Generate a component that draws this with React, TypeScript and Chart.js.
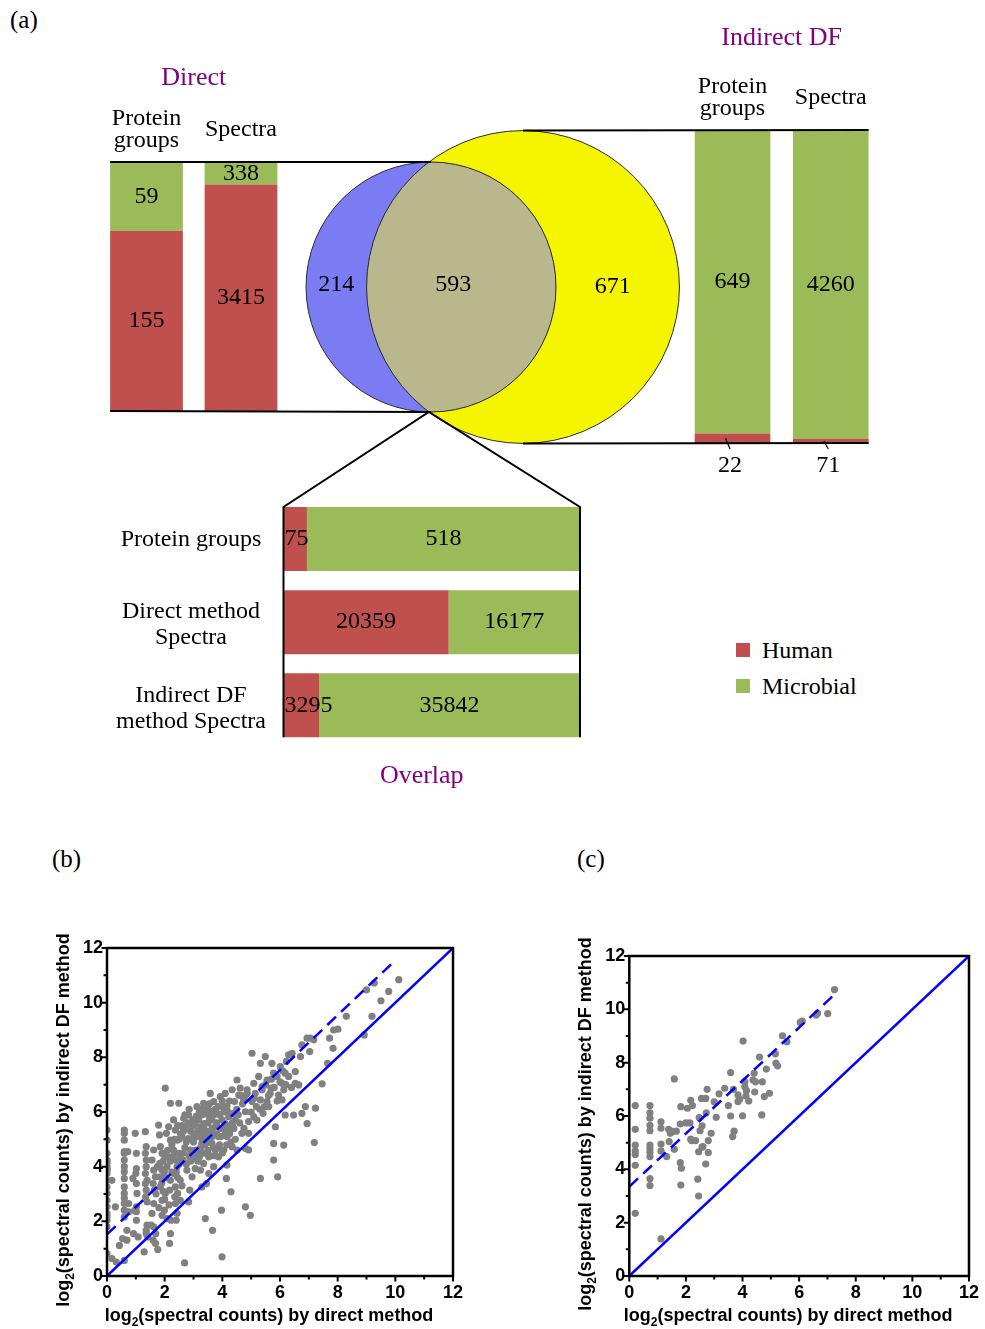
import React, { useEffect, useRef } from "react";
import { Chart, registerables } from "chart.js";

Chart.register(...registerables);

// ---------------- data ----------------
const seriesNames = ["Human", "Microbial"];

const directCategories = [["Protein", "groups"], ["Spectra"]];
const directHumanCounts = [155, 3415];
const directMicrobialCounts = [59, 338];
const directHumanShare = [72.4, 91.0];
const directMicrobialShare = [27.6, 9.0];

const indirectCategories = [["Protein", "groups"], ["Spectra"]];
const indirectHumanCounts = [22, 71];
const indirectMicrobialCounts = [649, 4260];
const indirectHumanShare = [3.0, 1.3];
const indirectMicrobialShare = [97.0, 98.7];

const overlapCategories = [["Protein groups"], ["Direct method", "Spectra"], ["Indirect DF", "method Spectra"]];
const overlapHumanCounts = [75, 20359, 3295];
const overlapMicrobialCounts = [518, 16177, 35842];
const overlapHumanShare = [7.9, 55.7, 12.0];
const overlapMicrobialShare = [92.1, 44.3, 88.0];

const vennSetNames = ["Direct", "Indirect DF"];
const vennOnlyCounts = [214, 671];
const vennSharedCount = 593;

const identityLine: [number, number][] = [[0, 0], [12, 12]];
const fitLineB: [number, number][] = [[0, 1.52], [9.9, 11.45]];
const fitLineC: [number, number][] = [[0, 3.35], [7.29, 10.6]];

const scatterB: [number, number][] = [
  [0, 5.34], [0, 4.97], [0, 4.49], [0, 4.24], [0, 4.12], [0, 4.0], [0, 3.87], [0, 3.75], [0, 3.5], [0, 3.26],
  [0, 3.02], [0, 2.77], [0, 2.53], [0, 2.29], [0, 2.04], [0, 1.8], [0, 0.82], [0, 4.19], [0, 3.94], [0, 2.17],
  [0.17, 0.64], [0.32, 0.51], [0.29, 2.53], [0.17, 3.5], [0.43, 1.12], [0.54, 1.37],
  [0.6, 5.34], [0.6, 5.22], [0.6, 4.97], [0.6, 4.55], [0.6, 4.49], [0.6, 4.24], [0.6, 4.0], [0.6, 3.81], [0.6, 3.57],
  [0.6, 3.26], [0.6, 3.02], [0.6, 2.84], [0.6, 2.65], [0.6, 2.41], [0.6, 2.16], [0.6, 0.57], [0.72, 4.55], [0.75, 2.65],
  [0.69, 1.67], [0.75, 2.35], [0.69, 1.31],
  [0.9, 3.57], [0.98, 5.22], [1.02, 4.49], [1.02, 3.93], [1.0, 3.75], [1.02, 3.38], [1.04, 3.02], [1.02, 2.53],
  [1.02, 2.35], [1.02, 2.04], [0.92, 1.55], [0.96, 2.4], [1.08, 1.43],
  [1.33, 5.28], [1.36, 4.73], [1.33, 4.49], [1.36, 4.24], [1.36, 4.0], [1.33, 3.75], [1.39, 3.5], [1.33, 3.38],
  [1.36, 3.14], [1.34, 2.9], [1.39, 2.71], [1.29, 0.88], [1.39, 1.86], [1.36, 1.67], [1.36, 1.55], [1.41, 1.43],
  [1.62, 4.61], [1.56, 4.24], [1.62, 3.87], [1.68, 3.63], [1.6, 3.38], [1.64, 3.14], [1.62, 2.65], [1.56, 2.29],
  [1.62, 1.8], [1.6, 1.31], [1.68, 1.19], [1.76, 0.97], [1.53, 1.86], [1.69, 1.55], [1.79, 5.52],
  [1.82, 5.16], [1.85, 4.73], [1.91, 4.49], [1.83, 4.12], [1.99, 3.81], [1.85, 3.63], [1.85, 3.26], [2.02, 3.02],
  [1.91, 2.77], [1.99, 2.41], [1.91, 2.22], [2.02, 6.87], [2.2, 6.32], [2.14, 5.46], [2.06, 5.22], [2.2, 4.97],
  [2.14, 4.36], [2.08, 4.0], [2.2, 3.5], [2.17, 3.14], [2.2, 1.55], [2.17, 1.19], [2.22, 2.04], [2.08, 2.1],
  [2.31, 5.71], [2.37, 5.34], [2.43, 4.97], [2.31, 4.61], [2.49, 4.49], [2.37, 4.24], [2.43, 4.0], [2.31, 3.75],
  [2.54, 3.5], [2.37, 3.26], [2.45, 3.02], [2.37, 2.65], [2.43, 2.29], [2.4, 2.04], [2.49, 6.32], [2.66, 5.77],
  [2.6, 5.1], [2.64, 4.24], [2.54, 2.77], [2.69, 0.48],
  [2.77, 5.46], [2.83, 5.03], [2.89, 4.61], [2.77, 3.87], [2.95, 3.63], [2.87, 3.14], [2.83, 5.89], [2.98, 5.71],
  [3.0, 5.22], [2.95, 4.3], [2.83, 2.71],
  [3.12, 6.2], [3.18, 5.83], [3.24, 5.46], [3.12, 5.1], [3.29, 4.85], [3.12, 4.61], [3.21, 4.36], [3.35, 4.12],
  [3.06, 3.93], [3.24, 3.87], [3.35, 6.32], [3.41, 5.95], [3.38, 5.58], [3.33, 5.22], [3.41, 4.49], [3.29, 3.26],
  [3.41, 2.1], [3.45, 3.38], [3.18, 5.71],
  [3.58, 6.68], [3.7, 6.38], [3.53, 6.07], [3.82, 5.95], [3.64, 5.71], [3.76, 5.46], [3.58, 5.22], [3.87, 5.1],
  [3.64, 4.85], [3.76, 4.61], [3.53, 4.36], [3.87, 4.36], [3.7, 4.0], [3.93, 6.56], [3.99, 5.71], [4.02, 6.2],
  [3.66, 1.67], [3.99, 0.7], [3.97, 2.41], [3.53, 3.75],
  [4.1, 6.68], [4.16, 6.2], [4.22, 5.83], [4.1, 5.58], [4.28, 5.34], [4.16, 5.1], [4.34, 4.73], [4.05, 4.61],
  [4.16, 4.06], [4.14, 3.57], [4.3, 3.08], [4.34, 6.81], [4.42, 6.38], [4.51, 7.17], [4.45, 5.71], [4.51, 4.61],
  [4.39, 5.95], [4.57, 6.62],
  [4.62, 6.87], [4.74, 6.44], [4.86, 6.68], [4.8, 6.01], [4.91, 5.65], [4.68, 5.22], [4.91, 5.22], [4.8, 4.67],
  [4.91, 4.61], [4.8, 2.53], [4.97, 2.22], [5.03, 8.15], [5.09, 7.05], [5.14, 6.68], [5.03, 6.38], [5.18, 6.2],
  [5.09, 5.83], [4.86, 6.81],
  [5.26, 7.3], [5.38, 6.93], [5.32, 6.44], [5.46, 6.2], [5.41, 5.95], [5.49, 8.03], [5.32, 7.78], [5.32, 3.57],
  [5.55, 7.17], [5.66, 6.68], [5.72, 7.78], [5.78, 7.42], [5.69, 6.87], [5.78, 4.85], [5.78, 4.24], [5.84, 5.46],
  [5.92, 3.63], [5.61, 6.2], [5.38, 6.81], [5.55, 6.38],
  [5.9, 7.3], [6.01, 7.66], [6.07, 7.05], [6.13, 6.81], [5.95, 6.62], [6.18, 7.42], [6.07, 6.44], [6.22, 7.85],
  [6.3, 8.09], [6.42, 8.15], [6.53, 7.48], [6.53, 7.05], [6.47, 5.89], [6.13, 4.79], [6.18, 5.89],
  [6.65, 6.99], [6.71, 8.03], [6.76, 8.46], [6.88, 6.2], [6.76, 5.95], [6.94, 8.7], [7.05, 8.7], [7.03, 8.21],
  [7.17, 8.64], [6.94, 5.58], [7.23, 6.14], [7.19, 4.88], [7.46, 7.03],
  [7.65, 7.78], [7.72, 8.7], [7.84, 8.33], [7.86, 9.0], [8.01, 9.03],
  [8.3, 9.5], [8.92, 8.82], [9.0, 10.47], [9.19, 9.5], [9.27, 10.72], [9.5, 10.07], [9.77, 10.41], [10.12, 10.84],
  [2.6, 5.5], [2.7, 4.7], [2.9, 5.3], [3.0, 4.9], [3.05, 5.6], [3.1, 4.4], [3.15, 5.3], [3.2, 6.0], [3.25, 4.7],
  [3.3, 5.0], [3.3, 5.9], [3.4, 4.8], [3.45, 5.3], [3.5, 4.6], [3.5, 5.6], [3.55, 6.3], [3.6, 4.9], [3.65, 5.4],
  [3.7, 5.9], [3.75, 4.4], [3.8, 5.2], [3.85, 6.2], [3.9, 4.8], [3.95, 5.4], [4.0, 4.5], [4.05, 6.0], [4.1, 5.2],
  [4.2, 5.5], [4.25, 6.4], [4.3, 4.9], [4.4, 5.4], [4.5, 6.1], [4.6, 5.6], [4.7, 6.3], [4.75, 5.4], [4.8, 6.6],
  [5.0, 6.0], [5.1, 6.5], [5.2, 5.7], [5.3, 6.1],
  [1.7, 3.0], [1.75, 4.0], [1.8, 2.5], [1.9, 3.4], [1.95, 4.2], [2.0, 2.8], [2.05, 3.6], [2.1, 4.6], [2.15, 2.6],
  [2.25, 3.8], [2.3, 4.4], [2.35, 2.9], [2.45, 3.6], [2.5, 4.1], [2.55, 5.2], [2.6, 3.3], [2.65, 4.5], [2.7, 5.9],
  [2.75, 4.1], [2.85, 4.4],
  [5.5, 7.0], [5.6, 6.6], [5.7, 7.2], [5.8, 6.9], [5.9, 6.4], [6.0, 7.1], [6.1, 7.5], [6.2, 7.0], [6.3, 7.3], [6.4, 6.9],
  [2.5, 5.0], [2.55, 4.3], [2.65, 5.3], [2.75, 4.9], [2.8, 5.6], [2.85, 6.1], [2.9, 4.2], [2.95, 5.0], [3.0, 5.5],
  [3.05, 4.6], [3.1, 5.85], [3.15, 4.2], [3.2, 5.1], [3.25, 6.1], [3.3, 4.5], [3.35, 5.4], [3.4, 6.1], [3.45, 5.1],
  [3.5, 4.9], [3.55, 5.8], [3.6, 4.4], [3.6, 6.0], [3.65, 5.1], [3.7, 4.7], [3.75, 6.1], [3.8, 5.6], [3.85, 4.7],
  [3.9, 5.9], [3.95, 5.1], [4.0, 6.4], [4.05, 5.4], [4.15, 4.8], [4.2, 6.0], [4.25, 5.2], [4.35, 5.6], [4.45, 5.0],
  [4.55, 5.9], [4.65, 6.6], [2.2, 4.2], [2.25, 4.8], [2.35, 5.0], [2.4, 3.8], [2.45, 5.5], [1.9, 3.9], [2.0, 4.4],
  [1.95, 3.1],
];

const scatterC: [number, number][] = [
  [0.21, 6.39], [0.21, 5.5], [0.21, 4.91], [0.21, 4.69], [0.21, 4.56], [0.21, 4.15], [0.21, 2.35],
  [0.73, 6.39], [0.73, 6.12], [0.73, 5.92], [0.73, 5.65], [0.73, 5.45], [0.73, 4.91], [0.73, 4.78], [0.73, 4.64],
  [0.73, 4.48], [0.73, 3.65], [0.73, 3.39],
  [1.12, 5.78], [1.12, 5.54], [1.12, 4.95], [1.12, 4.69], [1.12, 1.39],
  [1.32, 4.48], [1.39, 5.5], [1.41, 5.04], [1.45, 5.35], [1.59, 4.75], [1.66, 5.43], [1.59, 7.39], [1.53, 5.42],
  [1.8, 5.7], [1.82, 6.35], [1.8, 4.25], [1.84, 4.04], [1.82, 3.41],
  [2.0, 5.74], [2.14, 5.74], [2.05, 6.29], [2.17, 6.59], [2.23, 6.39], [2.17, 5.13], [2.34, 5.08], [2.2, 5.08],
  [2.42, 3.63], [2.45, 3.0], [2.45, 4.66], [2.47, 5.94], [2.5, 5.45], [2.57, 5.63], [2.57, 4.83], [2.55, 6.66],
  [2.7, 6.66], [2.75, 7.0], [2.72, 6.12], [2.7, 4.2], [2.79, 4.63], [2.79, 5.08], [2.89, 5.35], [2.6, 4.85],
  [3.0, 6.53], [3.07, 5.95], [3.17, 6.83], [3.37, 7.04], [3.5, 6.39], [3.58, 6.0], [3.58, 7.63], [3.68, 7.0],
  [3.7, 5.43], [3.65, 5.23], [3.84, 6.79], [3.84, 6.54], [3.9, 6.63], [4.0, 6.01], [4.02, 8.81], [4.08, 7.29],
  [4.12, 6.75], [4.14, 6.95], [4.22, 6.56], [4.08, 7.1],
  [4.41, 7.6], [4.37, 7.35], [4.43, 6.9], [4.46, 7.28], [4.6, 8.21], [4.7, 7.28], [4.68, 6.04], [4.77, 6.73],
  [4.84, 7.76], [4.95, 6.85],
  [5.16, 8.33], [5.18, 7.98], [5.24, 7.88], [5.41, 9.01], [5.57, 8.78], [6.04, 9.51], [6.11, 9.56], [6.6, 9.79],
  [6.65, 9.85], [7.01, 9.84], [7.25, 10.74],
];

// ---------------- style / layout ----------------
const SERIF = '"Liberation Serif", "Times New Roman", serif';
const SANS = '"Liberation Sans", Arial, sans-serif';
const RED = "#c0504d";
const GREEN = "#9bbb59";
const PURPLE = "#800080";
const VENN_BLUE = "#7b7bf4";
const VENN_YELLOW = "#f5f500";
const VENN_SHARED = "#b9b88c";
const LINE_BLUE = "#0000ff";
const DOT_GRAY = "#808080";

type Box = { x: number; y: number; w: number; h: number };
type Area = { left: number; right: number; top: number; bottom: number };

const BAR_PCT = 0.77;
const PAGE_W = 985;
const TOP_H = 800;

const DIRECT_BOX: Box = { x: 0, y: 40, w: 310, h: 390 };
const DIRECT_AREA: Area = { left: 99.25, right: 288.25, top: 162, bottom: 411 };
const INDIRECT_BOX: Box = { x: 660, y: 10, w: 325, h: 480 };
const INDIRECT_AREA: Area = { left: 683.4, right: 879.9, top: 130, bottom: 443 };
const OVERLAP_BOX: Box = { x: 90, y: 480, w: 510, h: 320 };
const OVERLAP_AREA: Area = { left: 283.5, right: 580, top: 497.4, bottom: 746.9 };
const VENN_BOX: Box = { x: 0, y: 0, w: PAGE_W, h: TOP_H };
const VENN_GEOM = { cy: 287, firstCx: 431, centerGap: 92, pxPerSqrtCount: 4.4 };

const SCATTER_B_BOX: Box = { x: 40, y: 930, w: 430, h: 399 };
const SCATTER_B_AREA: Area = { left: 107, right: 453, top: 948, bottom: 1276 };
const SCATTER_C_BOX: Box = { x: 565, y: 930, w: 420, h: 399 };
const SCATTER_C_AREA: Area = { left: 629.3, right: 974.3, top: 956, bottom: 1276 };

function padFor(area: Area, box: Box) {
  return {
    left: area.left - box.x,
    top: area.top - box.y,
    right: box.x + box.w - area.right,
    bottom: box.y + box.h - area.bottom,
  };
}

// ---------------- plugins ----------------
function barValuePlugin(counts: number[][], horizontal: boolean, outsideSeries = -1) {
  return {
    id: "barValues",
    afterDatasetsDraw(chart: any) {
      const ctx = chart.ctx;
      ctx.save();
      ctx.font = `24px ${SERIF}`;
      ctx.fillStyle = "#000";
      ctx.strokeStyle = "#000";
      ctx.textBaseline = "middle";
      counts.forEach((series, di) => {
        const meta = chart.getDatasetMeta(di);
        meta.data.forEach((el: any, i: number) => {
          const text = String(series[i]);
          ctx.textAlign = "center";
          if (!horizontal) {
            const cx = el.x;
            const cy = (el.y + el.base) / 2;
            if (di === outsideSeries) {
              ctx.lineWidth = 1.2;
              ctx.beginPath();
              ctx.moveTo(cx - 7, cy);
              ctx.lineTo(cx - 2.5, el.base + 6);
              ctx.stroke();
              ctx.fillText(text, cx - 2.5, el.base + 23);
            } else {
              ctx.fillText(text, cx, cy);
            }
          } else {
            const l = Math.min(el.x, el.base);
            const r = Math.max(el.x, el.base);
            const w = ctx.measureText(text).width;
            if (w > r - l) {
              ctx.textAlign = "left";
              ctx.fillText(text, l + 1, el.y);
            } else {
              ctx.fillText(text, (l + r) / 2, el.y);
            }
          }
        });
      });
      ctx.restore();
    },
  };
}

function topCategoryPlugin(labels: string[][], title: string, titleDY: number) {
  return {
    id: "topCats",
    afterDraw(chart: any) {
      const { ctx, chartArea, scales } = chart;
      ctx.save();
      ctx.font = `24px ${SERIF}`;
      ctx.fillStyle = "#000";
      ctx.textAlign = "center";
      ctx.textBaseline = "middle";
      labels.forEach((lines, i) => {
        const x = scales.x.getPixelForValue(i);
        const cy = chartArea.top - 32;
        lines.forEach((t, k) => ctx.fillText(t, x, cy + (k - (lines.length - 1) / 2) * 22));
      });
      ctx.font = `26px ${SERIF}`;
      ctx.fillStyle = PURPLE;
      ctx.fillText(title, (chartArea.left + chartArea.right) / 2, chartArea.top + titleDY);
      ctx.restore();
    },
  };
}

function leftCategoryPlugin(labels: string[][], title: string) {
  return {
    id: "leftCats",
    afterDraw(chart: any) {
      const { ctx, chartArea, scales } = chart;
      ctx.save();
      ctx.font = `24px ${SERIF}`;
      ctx.fillStyle = "#000";
      ctx.textAlign = "center";
      ctx.textBaseline = "middle";
      labels.forEach((lines, i) => {
        const y = scales.y.getPixelForValue(i);
        const shift = lines.length > 1 ? 3 : 1;
        lines.forEach((t, k) =>
          ctx.fillText(t, chartArea.left - 92.5, y + shift + (k - (lines.length - 1) / 2) * 26)
        );
      });
      ctx.font = `26px ${SERIF}`;
      ctx.fillStyle = PURPLE;
      ctx.fillText(title, (chartArea.left + chartArea.right) / 2 - 10, chartArea.bottom + 29);
      ctx.restore();
    },
  };
}

function stackedConfig(opts: {
  labels: string[][];
  humanShare: number[];
  microbialShare: number[];
  counts: number[][];
  horizontal: boolean;
  area: Area;
  box: Box;
  extra: any;
  outsideSeries?: number;
}) {
  const valueAxis = { stacked: true, display: false, min: 0, max: 100 };
  const catAxis = { stacked: true, display: false };
  return {
    type: "bar",
    data: {
      labels: opts.labels.map((l) => l.join(" ")),
      datasets: [
        {
          label: seriesNames[0],
          data: opts.humanShare,
          backgroundColor: RED,
          borderWidth: 0,
          barPercentage: BAR_PCT,
          categoryPercentage: 1,
        },
        {
          label: seriesNames[1],
          data: opts.microbialShare,
          backgroundColor: GREEN,
          borderWidth: 0,
          barPercentage: BAR_PCT,
          categoryPercentage: 1,
        },
      ],
    },
    options: {
      indexAxis: opts.horizontal ? "y" : "x",
      responsive: false,
      animation: false,
      devicePixelRatio: 1,
      events: [],
      layout: { padding: padFor(opts.area, opts.box), autoPadding: false },
      plugins: { legend: { display: false }, tooltip: { enabled: false } },
      scales: opts.horizontal ? { x: valueAxis, y: catAxis } : { x: catAxis, y: valueAxis },
    },
    plugins: [barValuePlugin(opts.counts, opts.horizontal, opts.outsideSeries ?? -1), opts.extra],
  };
}

const vennPlugin = {
  id: "vennExtras",
  afterDatasetsDraw(chart: any) {
    const { ctx, scales } = chart;
    const a = chart.getDatasetMeta(0).data[0];
    const b = chart.getDatasetMeta(1).data[0];
    const ra = a.options.radius;
    const rb = b.options.radius;
    // shared region
    ctx.save();
    ctx.beginPath();
    ctx.arc(a.x, a.y, ra, 0, Math.PI * 2);
    ctx.clip();
    ctx.beginPath();
    ctx.arc(b.x, b.y, rb, 0, Math.PI * 2);
    ctx.fillStyle = VENN_SHARED;
    ctx.fill();
    ctx.restore();
    ctx.save();
    ctx.strokeStyle = "#2a2a2a";
    ctx.lineWidth = 1;
    [[a, ra], [b, rb]].forEach(([el, r]: any) => {
      ctx.beginPath();
      ctx.arc(el.x, el.y, r, 0, Math.PI * 2);
      ctx.stroke();
    });
    // counts
    ctx.font = `24px ${SERIF}`;
    ctx.fillStyle = "#000";
    ctx.textAlign = "center";
    ctx.textBaseline = "middle";
    ctx.fillText(String(vennOnlyCounts[0]), (a.x - ra + (b.x - rb)) / 2, a.y - 2);
    ctx.fillText(String(vennSharedCount), (b.x - rb + (a.x + ra)) / 2 - 8, a.y - 2);
    ctx.fillText(String(vennOnlyCounts[1]), (a.x + ra + (b.x + rb)) / 2 - 5, b.y);

    // connectors (page coordinates through the scales)
    const X = (v: number) => scales.x.getPixelForValue(v);
    const Y = (v: number) => scales.y.getPixelForValue(v);
    const dCat = (DIRECT_AREA.right - DIRECT_AREA.left) / directCategories.length;
    const directLeft = DIRECT_AREA.left + (dCat * (1 - BAR_PCT)) / 2;
    const iCat = (INDIRECT_AREA.right - INDIRECT_AREA.left) / indirectCategories.length;
    const indirectRight = INDIRECT_AREA.right - (iCat * (1 - BAR_PCT)) / 2;
    const oCat = (OVERLAP_AREA.bottom - OVERLAP_AREA.top) / overlapCategories.length;
    const oTop = OVERLAP_AREA.top + (oCat * (1 - BAR_PCT)) / 2;
    const oBottom = OVERLAP_AREA.bottom - (oCat * (1 - BAR_PCT)) / 2;
    const d = b.x - a.x;
    const off = (d * d + ra * ra - rb * rb) / (2 * d);
    const h = Math.sqrt(Math.max(0, ra * ra - off * off));
    const ix = a.x + off;
    const iy = a.y + h;

    ctx.strokeStyle = "#000";
    ctx.lineWidth = 2;
    const seg = (pts: [number, number][]) => {
      ctx.beginPath();
      pts.forEach(([px, py], k) => (k === 0 ? ctx.moveTo(px, py) : ctx.lineTo(px, py)));
      ctx.stroke();
    };
    seg([[X(directLeft), Y(DIRECT_AREA.top)], [a.x, a.y - ra]]);
    seg([[X(directLeft), Y(DIRECT_AREA.bottom)], [a.x, a.y + ra]]);
    seg([[b.x, b.y - rb], [X(indirectRight), Y(INDIRECT_AREA.top)]]);
    seg([[b.x, b.y + rb], [X(indirectRight), Y(INDIRECT_AREA.bottom)]]);
    seg([
      [X(OVERLAP_AREA.left), Y(oBottom)],
      [X(OVERLAP_AREA.left), Y(oTop)],
      [ix, iy],
      [X(OVERLAP_AREA.right), Y(oTop)],
      [X(OVERLAP_AREA.right), Y(oBottom)],
    ]);
    ctx.restore();
  },
};

function vennConfig() {
  const rFirst = VENN_GEOM.pxPerSqrtCount * Math.sqrt(vennOnlyCounts[0] + vennSharedCount);
  const rSecond = VENN_GEOM.pxPerSqrtCount * Math.sqrt(vennOnlyCounts[1] + vennSharedCount);
  return {
    type: "bubble",
    data: {
      datasets: [
        {
          label: vennSetNames[0],
          data: [{ x: VENN_GEOM.firstCx, y: VENN_GEOM.cy, r: rFirst }],
          backgroundColor: VENN_BLUE,
          borderWidth: 0,
          clip: false,
        },
        {
          label: vennSetNames[1],
          data: [{ x: VENN_GEOM.firstCx + VENN_GEOM.centerGap, y: VENN_GEOM.cy, r: rSecond }],
          backgroundColor: VENN_YELLOW,
          borderWidth: 0,
          clip: false,
        },
      ],
    },
    options: {
      responsive: false,
      animation: false,
      devicePixelRatio: 1,
      events: [],
      layout: { padding: 0, autoPadding: false },
      plugins: { legend: { display: false }, tooltip: { enabled: false } },
      scales: {
        x: { type: "linear", min: 0, max: PAGE_W, display: false },
        y: { type: "linear", min: 0, max: TOP_H, reverse: true, display: false },
      },
    },
    plugins: [vennPlugin],
  };
}

function drawLogTitle(ctx: CanvasRenderingContext2D, rest: string, cx: number, cy: number, rotate: boolean) {
  ctx.save();
  ctx.translate(cx, cy);
  if (rotate) ctx.rotate(-Math.PI / 2);
  const big = `bold 18px ${SANS}`;
  const small = `bold 12px ${SANS}`;
  ctx.font = big;
  const w1 = ctx.measureText("log").width;
  const w3 = ctx.measureText(rest).width;
  ctx.font = small;
  const w2 = ctx.measureText("2").width;
  let x = -(w1 + w2 + w3) / 2;
  ctx.fillStyle = "#000";
  ctx.textAlign = "left";
  ctx.textBaseline = "alphabetic";
  const base = 6;
  ctx.font = big;
  ctx.fillText("log", x, base);
  x += w1;
  ctx.font = small;
  ctx.fillText("2", x, base + 5);
  x += w2;
  ctx.font = big;
  ctx.fillText(rest, x, base);
  ctx.restore();
}

function scatterFramePlugin(xTitle: string, yTitle: string) {
  return {
    id: "scatterFrame",
    afterDraw(chart: any) {
      const { ctx, chartArea, scales } = chart;
      const { left, right, top, bottom } = chartArea;
      ctx.save();
      ctx.strokeStyle = "#000";
      ctx.lineWidth = 2.5;
      ctx.strokeRect(left, top, right - left, bottom - top);
      ctx.lineWidth = 2;
      for (let v = 0; v <= 12; v++) {
        const len = v % 2 === 0 ? 5.5 : 3.5;
        const py = scales.y.getPixelForValue(v);
        const px = scales.x.getPixelForValue(v);
        ctx.beginPath();
        ctx.moveTo(left - len, py);
        ctx.lineTo(left, py);
        ctx.moveTo(px, bottom);
        ctx.lineTo(px, bottom + len);
        ctx.stroke();
      }
      ctx.restore();
      drawLogTitle(ctx, xTitle, (left + right) / 2 - 11, bottom + 39, false);
      drawLogTitle(ctx, yTitle, left - 44, (top + bottom) / 2 + 8, true);
    },
  };
}

function scatterConfig(points: [number, number][], fit: [number, number][], area: Area, box: Box) {
  const leftW = area.left - box.x;
  const bottomH = box.y + box.h - area.bottom;
  const tickFont = { family: SANS, size: 18, weight: "bold" };
  return {
    type: "scatter",
    data: {
      datasets: [
        {
          label: "y = x",
          data: identityLine.map(([x, y]) => ({ x, y })),
          showLine: true,
          borderColor: LINE_BLUE,
          borderWidth: 2.5,
          pointRadius: 0,
          order: 0,
        },
        {
          label: "fit",
          data: fit.map(([x, y]) => ({ x, y })),
          showLine: true,
          borderColor: LINE_BLUE,
          borderWidth: 2.5,
          borderDash: [12, 7],
          pointRadius: 0,
          order: 0,
        },
        {
          label: "proteins",
          data: points.map(([x, y]) => ({ x, y })),
          pointRadius: 3.6,
          backgroundColor: DOT_GRAY,
          borderColor: DOT_GRAY,
          borderWidth: 0,
          order: 1,
        },
      ],
    },
    options: {
      responsive: false,
      animation: false,
      devicePixelRatio: 1,
      events: [],
      layout: {
        padding: { left: 0, top: area.top - box.y, right: box.x + box.w - area.right, bottom: 0 },
        autoPadding: false,
      },
      plugins: { legend: { display: false }, tooltip: { enabled: false } },
      scales: {
        x: {
          type: "linear",
          min: 0,
          max: 12,
          afterFit: (s: any) => {
            s.height = bottomH;
          },
          grid: { display: false, drawTicks: false },
          border: { display: false },
          ticks: { stepSize: 2, padding: 6, color: "#000", font: tickFont, maxRotation: 0 },
        },
        y: {
          type: "linear",
          min: 0,
          max: 12,
          afterFit: (s: any) => {
            s.width = leftW;
          },
          grid: { display: false, drawTicks: false },
          border: { display: false },
          ticks: { stepSize: 2, padding: 4, color: "#000", font: tickFont },
        },
      },
    },
    plugins: [scatterFramePlugin("(spectral counts) by direct method", "(spectral counts) by indirect DF method")],
  };
}

// ---------------- components ----------------
function ChartCanvas({ box, z, make }: { box: Box; z: number; make: () => any }) {
  const ref = useRef<HTMLCanvasElement | null>(null);
  useEffect(() => {
    if (!ref.current) return;
    const chart = new Chart(ref.current, make());
    return () => chart.destroy();
  }, []);
  return (
    <canvas
      ref={ref}
      width={box.w}
      height={box.h}
      style={{ position: "absolute", left: box.x, top: box.y, width: box.w, height: box.h, zIndex: z }}
    />
  );
}

const textStyle = (left: number, top: number, size: number): React.CSSProperties => ({
  position: "absolute",
  left,
  top,
  fontFamily: SERIF,
  fontSize: size,
  lineHeight: `${size}px`,
  color: "#000",
  whiteSpace: "nowrap",
});

export default function App() {
  return (
    <div style={{ position: "absolute", left: 0, top: 0, width: PAGE_W, height: 1329, background: "#fff", overflow: "hidden" }}>
      <div style={textStyle(10, 7, 25)}>(a)</div>
      <div style={textStyle(52, 846, 25)}>(b)</div>
      <div style={textStyle(577, 846, 25)}>(c)</div>

      <ChartCanvas
        box={DIRECT_BOX}
        z={1}
        make={() =>
          stackedConfig({
            labels: directCategories,
            humanShare: directHumanShare,
            microbialShare: directMicrobialShare,
            counts: [directHumanCounts, directMicrobialCounts],
            horizontal: false,
            area: DIRECT_AREA,
            box: DIRECT_BOX,
            extra: topCategoryPlugin(directCategories, "Direct", -84),
          })
        }
      />
      <ChartCanvas
        box={INDIRECT_BOX}
        z={1}
        make={() =>
          stackedConfig({
            labels: indirectCategories,
            humanShare: indirectHumanShare,
            microbialShare: indirectMicrobialShare,
            counts: [indirectHumanCounts, indirectMicrobialCounts],
            horizontal: false,
            area: INDIRECT_AREA,
            box: INDIRECT_BOX,
            outsideSeries: 0,
            extra: topCategoryPlugin(indirectCategories, "Indirect DF", -92),
          })
        }
      />
      <ChartCanvas
        box={OVERLAP_BOX}
        z={1}
        make={() =>
          stackedConfig({
            labels: overlapCategories,
            humanShare: overlapHumanShare,
            microbialShare: overlapMicrobialShare,
            counts: [overlapHumanCounts, overlapMicrobialCounts],
            horizontal: true,
            area: OVERLAP_AREA,
            box: OVERLAP_BOX,
            extra: leftCategoryPlugin(overlapCategories, "Overlap"),
          })
        }
      />
      <ChartCanvas box={VENN_BOX} z={2} make={vennConfig} />

      <div style={{ position: "absolute", left: 736, top: 643, width: 14, height: 14, background: RED }} />
      <div style={textStyle(762, 638, 24)}>{seriesNames[0]}</div>
      <div style={{ position: "absolute", left: 736, top: 679, width: 14, height: 14, background: GREEN }} />
      <div style={textStyle(762, 674, 24)}>{seriesNames[1]}</div>

      <ChartCanvas box={SCATTER_B_BOX} z={1} make={() => scatterConfig(scatterB, fitLineB, SCATTER_B_AREA, SCATTER_B_BOX)} />
      <ChartCanvas box={SCATTER_C_BOX} z={1} make={() => scatterConfig(scatterC, fitLineC, SCATTER_C_AREA, SCATTER_C_BOX)} />
    </div>
  );
}
